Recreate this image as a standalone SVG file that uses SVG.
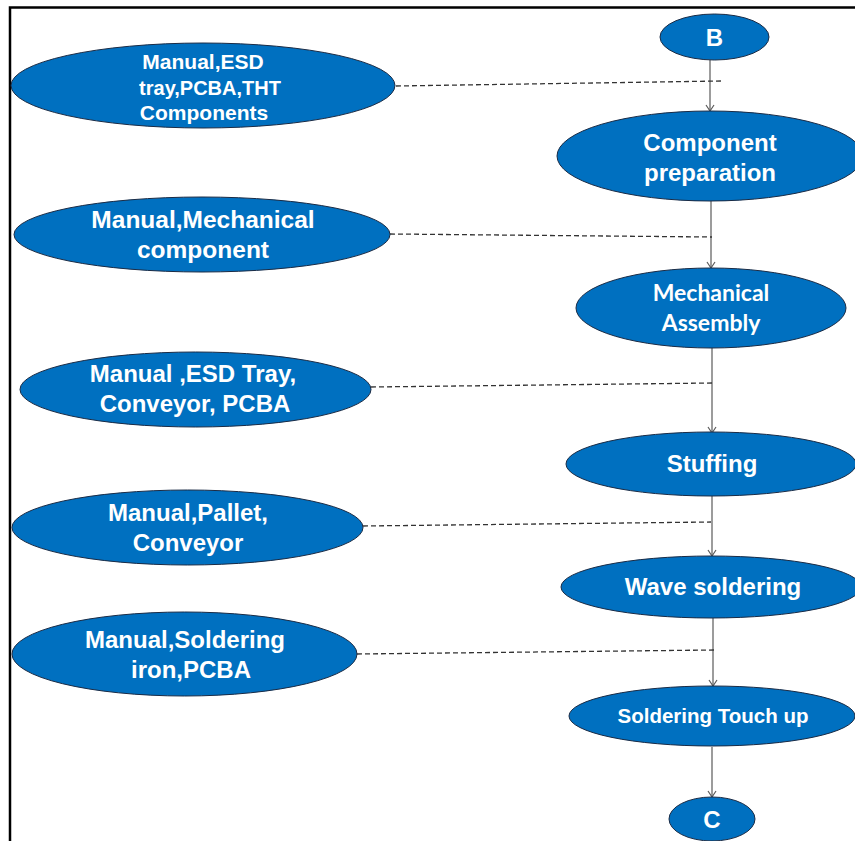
<svg xmlns="http://www.w3.org/2000/svg" width="855" height="841" viewBox="0 0 855 841">
<style>
.n{fill:#0070C0;stroke:#1a2b45;stroke-width:1}
.t{fill:#fff;font-family:"Liberation Sans",Arial,sans-serif;font-weight:bold;text-anchor:middle}
.c{fill:#fff;font-family:Lato,"Open Sans",sans-serif;font-weight:bold;text-anchor:middle}
.a{stroke:#5a5a5a;stroke-width:1.2;fill:none;marker-end:url(#ah)}
.d{stroke:#333;stroke-width:1.3;stroke-dasharray:5 3;fill:none}
</style>
<defs>
<marker id="ah" markerWidth="12" markerHeight="12" refX="9" refY="6" orient="auto" markerUnits="userSpaceOnUse">
<path d="M3,2 L9,6 L3,10" fill="none" stroke="#5a5a5a" stroke-width="1.2"/>
</marker>
</defs>
<rect width="855" height="841" fill="#fff"/>
<path d="M10,841 V7.5 H855" fill="none" stroke="#000" stroke-width="2.5"/>
<g id="connectors">
<line class="a" x1="710" y1="60" x2="710" y2="111"/>
<line class="a" x1="711" y1="201" x2="711" y2="268"/>
<line class="a" x1="712" y1="348" x2="712" y2="433"/>
<line class="a" x1="712" y1="496" x2="712" y2="556"/>
<line class="a" x1="713" y1="618" x2="713" y2="686"/>
<line class="a" x1="712" y1="747" x2="712" y2="797"/>
<line class="d" x1="396" y1="86" x2="722" y2="81"/>
<line class="d" x1="390" y1="234" x2="712" y2="237"/>
<line class="d" x1="371" y1="387" x2="714" y2="383"/>
<line class="d" x1="363" y1="526" x2="711" y2="522"/>
<line class="d" x1="357" y1="654" x2="714" y2="650"/>
</g>
<g id="B"><ellipse class="n" cx="714.5" cy="37" rx="54.5" ry="23"/><text class="t" x="714.5" y="46" font-size="24">B</text></g>
<g id="comp-prep"><ellipse class="n" cx="710" cy="156" rx="153" ry="45"/><text class="t" x="710" y="151" font-size="24">Component</text><text class="t" x="710" y="181" font-size="24">preparation</text></g>
<g id="mech-asm"><ellipse class="n" cx="711" cy="308" rx="135" ry="40"/><text class="c" x="711" y="301" font-size="23">Mechanical</text><text class="c" x="711" y="331" font-size="23">Assembly</text></g>
<g id="stuffing"><ellipse class="n" cx="711" cy="464" rx="145" ry="32"/><text class="t" x="712" y="472" font-size="24">Stuffing</text></g>
<g id="wave"><ellipse class="n" cx="711" cy="587" rx="150" ry="31"/><text class="t" x="713" y="595" font-size="24">Wave soldering</text></g>
<g id="touchup"><ellipse class="n" cx="712" cy="716" rx="143" ry="30"/><text class="t" x="713" y="723" font-size="20.5">Soldering Touch up</text></g>
<g id="C"><ellipse class="n" cx="712" cy="819" rx="43" ry="22"/><text class="t" x="712" y="828" font-size="24">C</text></g>
<g id="res1"><ellipse class="n" cx="203" cy="85.5" rx="192" ry="42.5"/><text class="t" x="203" y="69" font-size="21">Manual,ESD</text><text class="t" x="210" y="95" font-size="20">tray,PCBA,THT</text><text class="t" x="204" y="120" font-size="21">Components</text></g>
<g id="res2"><ellipse class="n" cx="202" cy="234.5" rx="188" ry="37.5"/><text class="t" x="203" y="228" font-size="24.5">Manual,Mechanical</text><text class="t" x="203" y="258" font-size="24.5">component</text></g>
<g id="res3"><ellipse class="n" cx="195.5" cy="389.5" rx="175.5" ry="37.5"/><text class="t" x="193" y="382" font-size="24">Manual ,ESD Tray,</text><text class="t" x="195" y="412" font-size="24">Conveyor, PCBA</text></g>
<g id="res4"><ellipse class="n" cx="187.5" cy="527.5" rx="175.5" ry="37.5"/><text class="t" x="188" y="521" font-size="24">Manual,Pallet,</text><text class="t" x="188" y="551" font-size="24">Conveyor</text></g>
<g id="res5"><ellipse class="n" cx="184.5" cy="654" rx="172.5" ry="42"/><text class="t" x="185" y="648" font-size="24">Manual,Soldering</text><text class="t" x="191" y="678" font-size="24">iron,PCBA</text></g>
</svg>
